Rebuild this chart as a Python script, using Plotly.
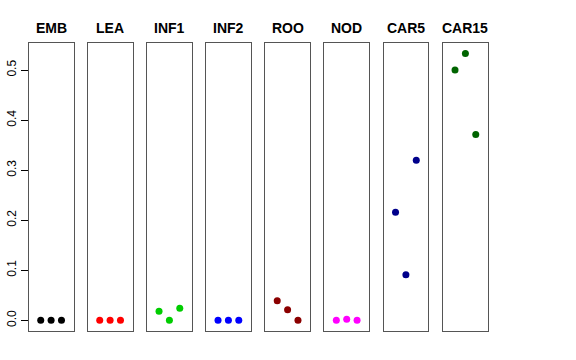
import plotly.graph_objects as go

panels = ["EMB", "LEA", "INF1", "INF2", "ROO", "NOD", "CAR5", "CAR15"]
colors = ["#000000", "#FF0000", "#00CD00", "#0000FF", "#8B0000", "#FF00FF", "#00008B", "#006400"]
x_pos = [1, 2, 3]
values = {
    "EMB": [0.0, 0.0, 0.0],
    "LEA": [0.0, 0.0, 0.0],
    "INF1": [0.018, 0.0, 0.024],
    "INF2": [0.0, 0.0, 0.0],
    "ROO": [0.039, 0.021, 0.0],
    "NOD": [0.0, 0.002, 0.0],
    "CAR5": [0.216, 0.091, 0.320],
    "CAR15": [0.500, 0.533, 0.371],
}
y_ticks = [0.0, 0.1, 0.2, 0.3, 0.4, 0.5]
y_tick_labels = ["0.0", "0.1", "0.2", "0.3", "0.4", "0.5"]

W, H = 576, 360
lefts = [28.7, 87.7, 147.0, 206.0, 265.2, 324.3, 383.5, 443.0]
pw = 44.8
top, bottom = 42.7, 331.0

fig = go.Figure()
annotations = []
for i, name in enumerate(panels):
    ax = "" if i == 0 else str(i + 1)
    fig.add_trace(go.Scatter(
        x=x_pos, y=values[name], mode="markers",
        marker=dict(color=colors[i], size=7),
        xaxis="x" + ax, yaxis="y" + ax, showlegend=False, hoverinfo="skip"))
    x0 = lefts[i] / W
    x1 = (lefts[i] + pw) / W
    fig.layout["xaxis" + ax] = dict(
        domain=[x0, x1], range=[-0.16, 4.16], showticklabels=False, ticks="",
        showgrid=False, zeroline=False, showline=True, mirror=True,
        linecolor="#555555", linewidth=1, anchor="y" + ax)
    yax = dict(
        domain=[1 - bottom / H, 1 - top / H], range=[-0.0213, 0.5546],
        showgrid=False, zeroline=False, showline=True, mirror=True,
        linecolor="#555555", linewidth=1, anchor="x" + ax)
    if i == 0:
        yax.update(tickvals=y_ticks, ticktext=y_tick_labels, ticks="outside",
                   ticklen=7, tickcolor="#000000", tickangle=-90,
                   tickfont=dict(family="Liberation Sans, Arial", size=12, color="#000000"))
    else:
        yax.update(showticklabels=False, ticks="")
    fig.layout["yaxis" + ax] = yax
    annotations.append(dict(
        text="<b>" + name + "</b>", x=(x0 + x1) / 2, y=1 - 28 / H,
        xref="paper", yref="paper", xanchor="center", yanchor="middle",
        showarrow=False, font=dict(family="Liberation Sans, Arial", size=14, color="#000000")))

fig.update_layout(
    width=W, height=H, margin=dict(l=0, r=0, t=0, b=0),
    paper_bgcolor="white", plot_bgcolor="white", annotations=annotations)

fig.write_html("out.html", config={"displayModeBar": False},
               post_script="document.body.style.margin='0px';")
